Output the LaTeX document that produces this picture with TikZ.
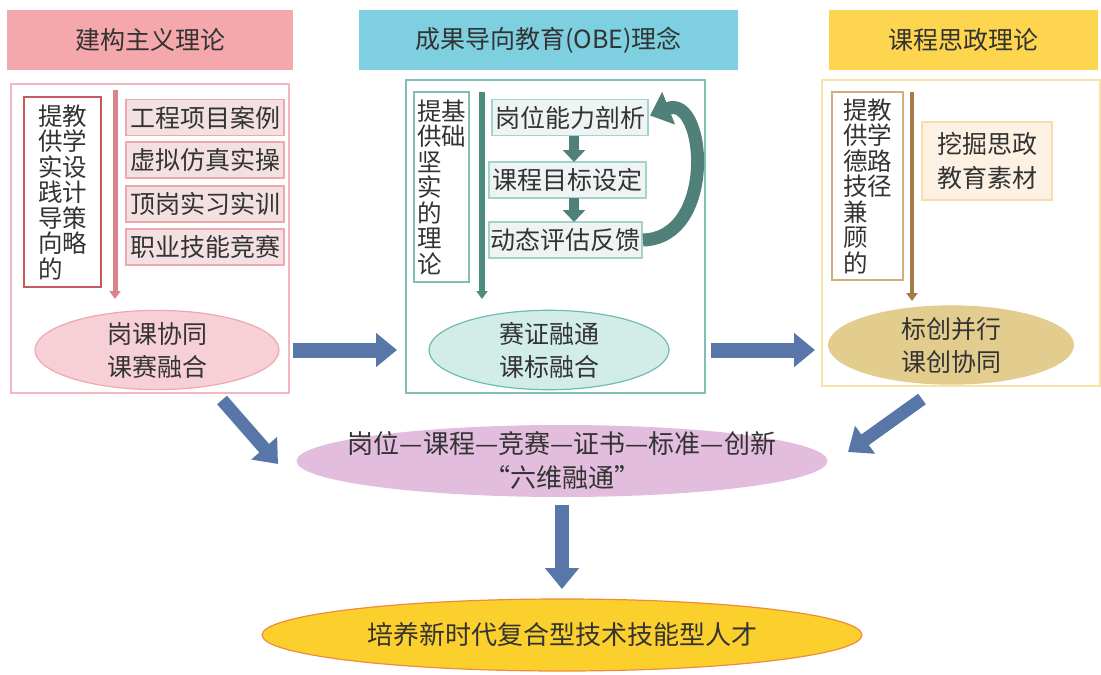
\documentclass[tikz,border=0pt]{standalone}
\usepackage{fontspec}
\setmainfont{Noto Sans CJK SC}
\usetikzlibrary{arrows.meta,shapes.geometric}
\definecolor{txt}{HTML}{333333}
\definecolor{hpink}{HTML}{F4A8AB}
\definecolor{hcyan}{HTML}{7ECFE0}
\definecolor{hyellow}{HTML}{FDD54F}
\definecolor{pinkline}{HTML}{F2B8BE}
\definecolor{redline}{HTML}{C55A5E}
\definecolor{pinkarrow}{HTML}{D7848F}
\definecolor{pinkfill}{HTML}{F3E1E1}
\definecolor{pinkedge}{HTML}{EFA8AE}
\definecolor{pinkell}{HTML}{F7CFD6}
\definecolor{tealline}{HTML}{7FBFB3}
\definecolor{tealarrow}{HTML}{4D8D80}
\definecolor{grayfill}{HTML}{EEF3F3}
\definecolor{tealedge}{HTML}{A5D3CA}
\definecolor{darkteal}{HTML}{4F807A}
\definecolor{tealell}{HTML}{D2EDE8}
\definecolor{tealelledge}{HTML}{6DBDAF}
\definecolor{yelline}{HTML}{F7E3A6}
\definecolor{brownline}{HTML}{CDB07A}
\definecolor{brownarrow}{HTML}{A47B45}
\definecolor{creamfill}{HTML}{FCF1E2}
\definecolor{creamedge}{HTML}{F6DDB0}
\definecolor{goldell}{HTML}{E3CD8E}
\definecolor{bluearrow}{HTML}{5876A8}
\definecolor{purpleell}{HTML}{E3BDDD}
\definecolor{sunfill}{HTML}{FCD02C}
\definecolor{orangeedge}{HTML}{F08A3C}
\tikzset{
  every node/.style={text=txt, inner sep=0pt, outer sep=0pt},
  hdr/.style={fill=#1, font=\fontsize{25}{28}\selectfont},
  panel/.style={draw=#1, line width=1.6pt},
  vbox/.style={draw=#1, line width=1.6pt, align=left, font=\fontsize{24.5}{25.5}\selectfont},
  item/.style={fill=pinkfill, draw=pinkedge, line width=1.5pt, minimum width=158, minimum height=36, font=\fontsize{25}{28}\selectfont},
  gitem/.style={fill=grayfill, draw=tealedge, line width=1.5pt, minimum height=36, font=\fontsize{25}{28}\selectfont},
  ell/.style={ellipse, fill=#1, align=center, font=\fontsize{25}{33}\selectfont},
  vline/.style={draw=#1, line width=5pt, -{Triangle[width=11pt,length=8pt]}},
  blockarrow/.style={draw=bluearrow, line width=15pt, -{Triangle[width=33pt,length=21pt]}},
  smallarrow/.style={draw=darkteal, line width=10pt, -{Triangle[width=22pt,length=12pt]}}
}
\begin{document}
\begin{tikzpicture}[x=1pt,y=-1pt]
\useasboundingbox (0,0) rectangle (1101,675);
% headers
\node[hdr=hpink, minimum width=286, minimum height=60] (h1) at (150,40) {建构主义理论};
\node[hdr=hcyan, minimum width=379, minimum height=60] (h2) at (548.5,40) {成果导向教育(OBE)理念};
\node[hdr=hyellow, minimum width=269, minimum height=60] (h3) at (963.5,40) {课程思政理论};
% panels
\node[panel=pinkline, minimum width=278, minimum height=309] (p1) at (150,238.5) {};
\node[panel=tealline, minimum width=299, minimum height=313] (p2) at (555.5,236.5) {};
\node[panel=yelline, minimum width=278, minimum height=306] (p3) at (961,233) {};
% panel 1
\node[vbox=redline, line width=2.5pt, minimum width=77, minimum height=190] (v1) at (62.5,192) {提教\\供学\\实设\\践计\\导策\\向略\\的};
\coordinate (a1s) at (115,90);
\coordinate (a1e) at (115,299);
\draw[vline=pinkarrow] (a1s) -- (a1e);
\node[item] (i1) at (205,117.5) {工程项目案例};
\node[item] (i2) at (205,160) {虚拟仿真实操};
\node[item] (i3) at (205,204) {顶岗实习实训};
\node[item] (i4) at (205,247) {职业技能竞赛};
\node[ell=pinkell, draw=pinkedge, line width=1.2pt, minimum width=244, minimum height=74] (e1) at (157,350) {岗课协同\\课赛融合};
% panel 2
\node[vbox=tealline, minimum width=55, minimum height=190] (v2) at (441.5,187) {提基\\供础\\坚\\实\\的\\理\\论};
\coordinate (a2s) at (482,92);
\coordinate (a2e) at (482,299);
\draw[vline=tealarrow, line width=6pt] (a2s) -- (a2e);
\node[gitem, minimum width=156] (g1) at (570,117.5) {岗位能力剖析};
\node[gitem, minimum width=157] (g2) at (567.5,180) {课程目标设定};
\node[gitem, minimum width=153] (g3) at (565.5,240) {动态评估反馈};
\draw[smallarrow] (g1.south -| 574,0) -- (g2.north -| 574,0);
\draw[smallarrow] (g2.south -| 574,0) -- (g3.north -| 574,0);
\draw[draw=darkteal, line width=13pt, -{Triangle[width=34pt,length=20pt]}] ([xshift=1pt]g3.east) .. controls +(74,-2) and +(56,-22) .. ([xshift=2pt,yshift=2pt]g1.east);
\node[ell=tealell, draw=tealelledge, line width=1.2pt, minimum width=240, minimum height=74] (e2) at (549,350) {赛证融通\\课标融合};
% panel 3
\node[vbox=brownline, minimum width=71, minimum height=188] (v3) at (867.5,186) {提教\\供学\\德路\\技径\\兼\\顾\\的};
\coordinate (a3s) at (912,92);
\coordinate (a3e) at (912,301);
\draw[vline=brownarrow, line width=4pt] (a3s) -- (a3e);
\node[fill=creamfill, draw=creamedge, line width=1.5pt, minimum width=130, minimum height=78, align=center, font=\fontsize{25}{34}\selectfont] (c1) at (987,161) {挖掘思政\\教育素材};
\node[ell=goldell, minimum width=246, minimum height=72] (e3) at (951,345) {标创并行\\课创协同};
% horizontal block arrows
\draw[blockarrow, shorten <=4pt, shorten >=9pt] (p1.east |- e1) -- (p2.west |- e1);
\draw[blockarrow, shorten <=6pt, shorten >=7pt] (p2.east |- e2) -- (p3.west |- e2);
% centre ellipse
\node[ell=purpleell, minimum width=531, minimum height=72] (m) at (562,461) {};
\node[align=center, font=\fontsize{26}{34}\selectfont] (mt) at (m) {岗位—课程—竞赛—证书—标准—创新\\“六维融通”};
\coordinate (dl1) at (222,400);
\coordinate (dl2) at (278,464);
\coordinate (dr1) at (922,399);
\coordinate (dr2) at (848,452);
\draw[blockarrow, line width=13pt] (dl1) -- (dl2);
\draw[blockarrow, line width=13pt] (dr1) -- (dr2);
% bottom
\node[ell=sunfill, draw=orangeedge, line width=1.2pt, minimum width=600, minimum height=72] (b) at (562,635) {};
\node[font=\fontsize{26}{30}\selectfont] (bt) at (b) {培养新时代复合型技术技能型人才};
\draw[blockarrow, line width=14pt, shorten <=8pt, shorten >=10pt] (m.south) -- (b.north);
\end{tikzpicture}
\end{document}
